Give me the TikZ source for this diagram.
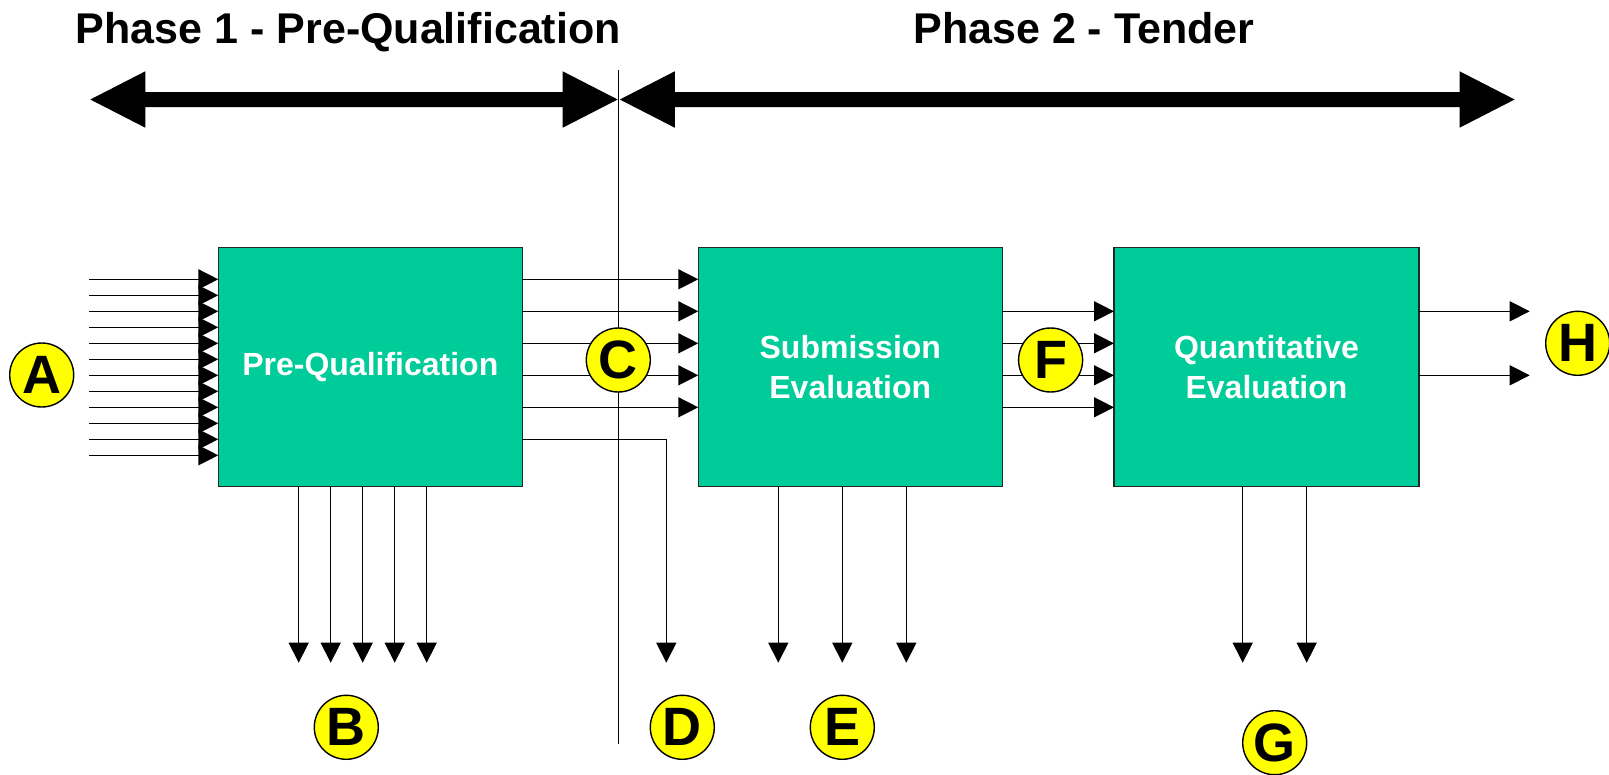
\documentclass[tikz,border=0pt]{standalone}
\usepackage{fontspec}
\setmainfont{Liberation Sans}
\usetikzlibrary{arrows.meta,calc}
\definecolor{boxgreen}{HTML}{00CC99}
\definecolor{marker}{HTML}{FFFF00}
\begin{document}
\begin{tikzpicture}[x=1pt,y=-1pt,
  stage/.style={draw=black!85,line width=1.5pt,fill=boxgreen,minimum width=304pt,
    minimum height=239.4pt,inner sep=0pt,outer sep=0pt,text=white,align=center,
    font=\fontsize{32}{40}\selectfont\bfseries},
  tag/.style={circle,draw=black,line width=1.4pt,fill=marker,minimum size=64pt,
    inner sep=0pt,font=\fontsize{54}{54}\selectfont\bfseries},
  flow/.style={line width=1.4pt,-{Triangle[length=20pt,width=20pt]}},
  title/.style={font=\fontsize{43}{50}\selectfont\bfseries,anchor=base},
  band/.style={fill=black}]
\useasboundingbox (0,0) rectangle (1609,774);

% phase titles
\node[title] (t1) at (348.4,43) {Phase 1 - Pre-Qualification};
\node[title] (t2) at (1084,43) {Phase 2 - Tender};

% phase extent bands
\fill[band] (90.3,99.5) -- (145.3,71.3) -- (145.3,92) -- (562.7,92) -- (562.7,71.3)
  -- (617.7,99.5) -- (562.7,127.7) -- (562.7,107) -- (145.3,107) -- (145.3,127.7) -- cycle;
\fill[band] (619.8,99.5) -- (674.8,71.3) -- (674.8,92) -- (1459.6,92) -- (1459.6,71.3)
  -- (1514.6,99.5) -- (1459.6,127.7) -- (1459.6,107) -- (674.8,107) -- (674.8,127.7) -- cycle;

% phase divider
\coordinate (divtop) at (618.3,69.8);
\coordinate (divbot) at (618.3,744);
\draw[line width=1.2pt] (divtop) -- (divbot);

% process stages
\node[stage] (pq) at (370.3,367) {Pre-Qualification};
\node[stage] (se) at (850.3,367) {Submission\\Evaluation};
\node[stage,minimum width=305pt] (qe) at (1266.5,367) {Quantitative\\Evaluation};

% applicants entering pre-qualification
\foreach \i in {0,...,11}
  \draw[flow] ($(pq.north west)+(-129,32+16*\i)$) -- ($(pq.north west)+(0,32+16*\i)$);

% pre-qualified applicants to submission evaluation
\foreach \i in {1,...,5}
  \draw[flow] ($(pq.north east)+(0,32*\i)$) -- ($(se.north west)+(0,32*\i)$);

% withdrawn after pre-qualification
\coordinate (dend) at (666.3,662.7);
\draw[flow] ($(pq.north east)+(0,192)$) -| (dend);

% submissions to quantitative evaluation
\foreach \i in {2,...,5}
  \draw[flow] ($(se.north east)+(0,32*\i)$) -- ($(qe.north west)+(0,32*\i)$);

% results
\foreach \i in {2,4}
  \draw[flow] ($(qe.north east)+(0,32*\i)$) -- ++(110.7,0);

% rejections
\foreach \k in {0,...,4}
  \draw[flow] ($(pq.south west)+(80.4+32*\k,0)$) -- ++(0,176);
\foreach \k in {0,...,2}
  \draw[flow] ($(se.south west)+(80+64*\k,0)$) -- ++(0,176);
\foreach \k in {0,...,1}
  \draw[flow] ($(qe.south west)+(128.7+64*\k,0)$) -- ++(0,176);

% markers
\node[tag] (A) at (41.7,375) {A};
\node[tag] (B) at (346.3,727.3) {B};
\node[tag] (C) at (618.3,360) {C};
\node[tag] (D) at (682.3,727.3) {D};
\node[tag] (E) at (842.3,727.3) {E};
\node[tag] (F) at (1050.6,360) {F};
\node[tag] (G) at (1274.7,742.7) {G};
\node[tag] (H) at (1577.7,343.3) {H};
\end{tikzpicture}
\end{document}
